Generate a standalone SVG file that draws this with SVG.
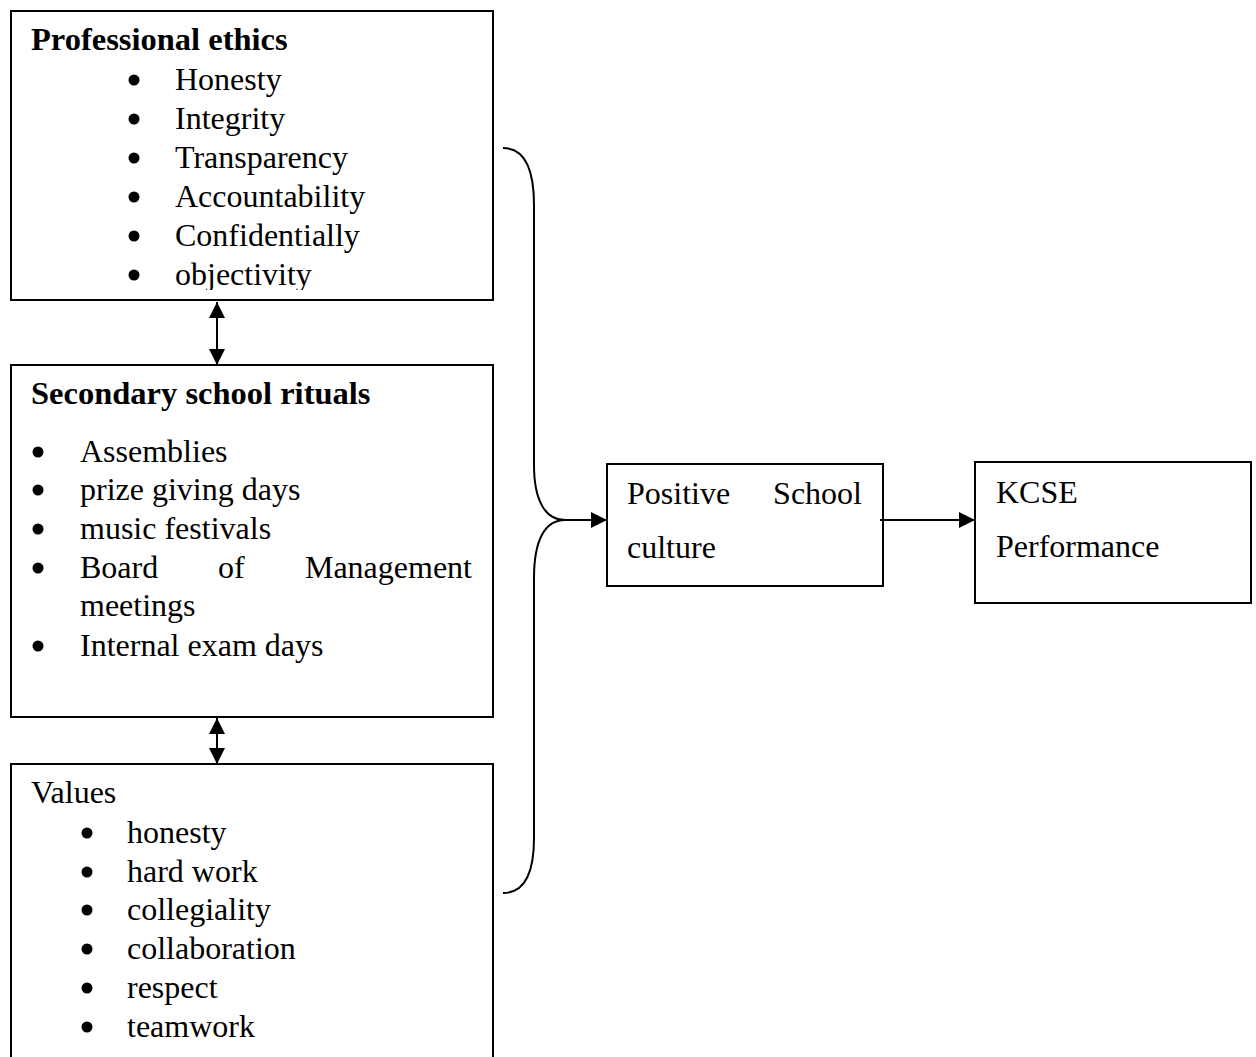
<svg xmlns="http://www.w3.org/2000/svg" width="1256" height="1057" viewBox="0 0 1256 1057">
<style>
.box{fill:#fff;stroke:#000;stroke-width:2}
.t{font-family:"Liberation Serif","Times New Roman",serif;font-size:32px;fill:#000}
.b{font-weight:bold;font-size:32.5px}
.ln{fill:none;stroke:#000;stroke-width:2}
</style>
<defs>
<marker id="ah" markerUnits="userSpaceOnUse" markerWidth="16" markerHeight="16" refX="16" refY="8" orient="auto-start-reverse" viewBox="0 0 16 16">
<path d="M0,0 L16,8 L0,16 z" fill="#000"/>
</marker>
<clipPath id="c1"><rect x="0" y="0" width="500" height="290"/></clipPath>
</defs>
<rect width="1256" height="1057" fill="#fff"/>

<g id="professional-ethics">
<rect class="box" x="11" y="11" width="482" height="289"/>
<g clip-path="url(#c1)">
<text class="t b" x="31" y="50">Professional ethics</text>
<g fill="#000">
<circle cx="134" cy="80" r="5.5"/><circle cx="134" cy="119" r="5.5"/><circle cx="134" cy="158" r="5.5"/>
<circle cx="134" cy="197" r="5.5"/><circle cx="134" cy="236" r="5.5"/><circle cx="134" cy="275" r="5.5"/>
</g>
<text class="t" x="175" y="90">Honesty</text>
<text class="t" x="175" y="129">Integrity</text>
<text class="t" x="175" y="168">Transparency</text>
<text class="t" x="175" y="207">Accountability</text>
<text class="t" x="175" y="246">Confidentially</text>
<text class="t" x="175" y="285">objectivity</text>
</g>
</g>

<g id="secondary-school-rituals">
<rect class="box" x="11" y="365" width="482" height="352"/>
<text class="t b" x="31" y="404">Secondary school rituals</text>
<g fill="#000">
<circle cx="38" cy="452" r="5.5"/><circle cx="38" cy="490" r="5.5"/><circle cx="38" cy="529" r="5.5"/>
<circle cx="38" cy="568" r="5.5"/><circle cx="38" cy="646" r="5.5"/>
</g>
<text class="t" x="80" y="462">Assemblies</text>
<text class="t" x="80" y="500">prize giving days</text>
<text class="t" x="80" y="539">music festivals</text>
<text class="t" x="80" y="578">Board</text>
<text class="t" x="218" y="578">of</text>
<text class="t" x="472" y="578" text-anchor="end">Management</text>
<text class="t" x="80" y="616">meetings</text>
<text class="t" x="80" y="656">Internal exam days</text>
</g>

<g id="values">
<path class="box" d="M11,1060 V764 H493 V1060"/>
<text class="t" x="31" y="803">Values</text>
<g fill="#000">
<circle cx="87" cy="833" r="5.5"/><circle cx="87" cy="872" r="5.5"/><circle cx="87" cy="910" r="5.5"/>
<circle cx="87" cy="949" r="5.5"/><circle cx="87" cy="988" r="5.5"/><circle cx="87" cy="1027" r="5.5"/>
</g>
<text class="t" x="127" y="843">honesty</text>
<text class="t" x="127" y="882">hard work</text>
<text class="t" x="127" y="920">collegiality</text>
<text class="t" x="127" y="959">collaboration</text>
<text class="t" x="127" y="998">respect</text>
<text class="t" x="127" y="1037">teamwork</text>
</g>

<g id="positive-school-culture">
<rect class="box" x="607" y="464" width="276" height="122"/>
<text class="t" x="627" y="504">Positive</text>
<text class="t" x="862" y="504" text-anchor="end">School</text>
<text class="t" x="627" y="558">culture</text>
</g>

<g id="kcse-performance">
<rect class="box" x="975" y="462" width="276" height="141"/>
<text class="t" x="996" y="503">KCSE</text>
<text class="t" x="996" y="557">Performance</text>
</g>

<g id="connectors">
<line class="ln" x1="217" y1="302" x2="217" y2="365" marker-start="url(#ah)" marker-end="url(#ah)"/>
<line class="ln" x1="217" y1="718" x2="217" y2="764" marker-start="url(#ah)" marker-end="url(#ah)"/>
<path class="ln" d="M503,148 C525,148 534,170 534,205 L534,465 C534,500 545,520 565,520"/>
<path class="ln" d="M565,520 C545,520 534,540 534,578 L534,838 C534,873 525,893 503,893"/>
<line class="ln" x1="563" y1="520" x2="607" y2="520" marker-end="url(#ah)"/>
<line class="ln" x1="880" y1="520" x2="975" y2="520" marker-end="url(#ah)"/>
</g>
</svg>
